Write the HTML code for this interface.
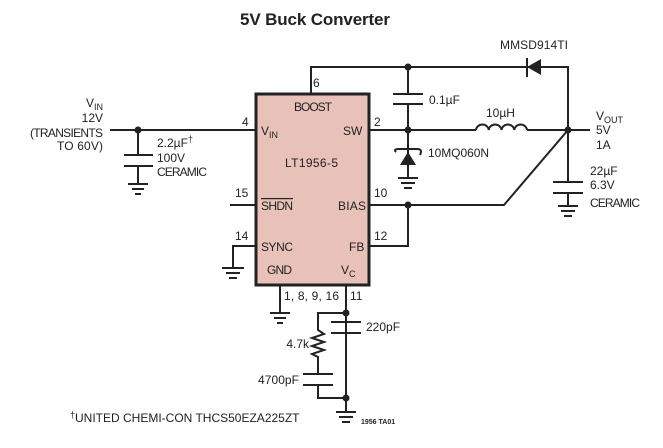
<!DOCTYPE html>
<html><head><meta charset="utf-8"><style>
html,body{margin:0;padding:0;background:#fff;width:663px;height:448px;overflow:hidden}
text{font-family:"Liberation Sans Narrow","Liberation Sans",sans-serif;font-size:12px;fill:#222}
</style></head><body>
<svg width="663" height="448" viewBox="0 0 663 448" xmlns="http://www.w3.org/2000/svg">
<g stroke="#222" stroke-width="2" fill="none">
<rect x="256" y="94" width="113" height="191" fill="#e8c1b9" stroke-width="3"/>
<path d="M110 130H256M138 130V155M124 155H153M124 166H153M138 166V184M128 184H148M132 189H144M135 194H141"/>
<path d="M311 94V67H568V130M408 67V94M393 94H423M393 104H423M408 104V130"/>
<path d="M527 58V77"/>
<path d="M370 130H476M527 130H590M476 130a6.4 6 0 0 1 12.75 0a6.4 6 0 0 1 12.75 0a6.4 6 0 0 1 12.75 0a6.4 6 0 0 1 12.75 0"/>
<path d="M408 130V178M398 178H418M401 183H415M404 188H412M396 152Q393 149 399 149H417Q423 149 420 155"/>
<path d="M568 130L504 205H370M408 205V246H370"/>
<path d="M568 130V182M553 182H583M553 193H583M568 193V206M558 206H578M561 211H575M564 216H572"/>
<path d="M230 205H256M256 246H233V268M222 268H244M226 273H240M229 278H237"/>
<path d="M280 285V313M270 313H290M274 318H286M277 323H283"/>
<path d="M346 285V412M336 412H356M339 417H353M342 422H350M331 322H361M331 333H361M346 313H318V330l6 4-12 4 12 4-12 4 12 4-12 4 6 3V374M303 374H333M303 385H333M318 385V398H346"/>
</g>
<g fill="#222">
<circle cx="138" cy="130" r="3.5"/><circle cx="408" cy="67" r="3.5"/><circle cx="408" cy="130" r="3.5"/>
<circle cx="568" cy="130" r="3.5"/><circle cx="408" cy="205" r="3.5"/><circle cx="346" cy="313" r="3.5"/><circle cx="346" cy="398" r="3.5"/>
<polygon points="527,67 541,59 541,75"/>
<polygon points="408,152 400,165 416,165"/>
</g>
<text x="315" y="25" text-anchor="middle" textLength="150" style="font-size:17px;font-weight:bold">5V Buck Converter</text>
<text x="500" y="49" textLength="68">MMSD914TI</text>
<text x="313" y="87">6</text>
<text x="294" y="111" textLength="38">BOOST</text>
<text x="261" y="135">V<tspan style="font-size:9px" dy="3">IN</tspan></text>
<text x="343" y="135">SW</text>
<text x="285" y="167" textLength="53">LT1956-5</text>
<text x="261" y="210" text-decoration="overline" textLength="32">SHDN</text>
<text x="338" y="210" textLength="28">BIAS</text>
<text x="261" y="251" textLength="32">SYNC</text>
<text x="349" y="251">FB</text>
<text x="267" y="274" textLength="25">GND</text>
<text x="341" y="274">V<tspan style="font-size:9px" dy="3">C</tspan></text>
<text x="242" y="126">4</text><text x="235" y="197">15</text><text x="235" y="240">14</text>
<text x="374" y="126">2</text><text x="374" y="197">10</text><text x="374" y="240">12</text>
<text x="284" y="300" textLength="55">1, 8, 9, 16</text><text x="350" y="300">11</text>
<text x="103" y="107" text-anchor="end">V<tspan style="font-size:9px" dy="3">IN</tspan></text>
<text x="103" y="122" text-anchor="end">12V</text>
<text x="103" y="137" text-anchor="end" textLength="73">(TRANSIENTS</text>
<text x="103" y="150" text-anchor="end" textLength="46">TO 60V)</text>
<text x="157" y="147">2.2µF<tspan style="font-size:9px" dy="-5">†</tspan></text>
<text x="157" y="162">100V</text><text x="157" y="176" textLength="50">CERAMIC</text>
<text x="429" y="104">0.1µF</text>
<text x="486" y="117">10µH</text>
<text x="428" y="157" textLength="61">10MQ060N</text>
<text x="596" y="120">V<tspan style="font-size:9px" dy="3">OUT</tspan></text>
<text x="596" y="134">5V</text><text x="596" y="149">1A</text>
<text x="590" y="175">22µF</text><text x="590" y="189">6.3V</text><text x="590" y="207" textLength="50">CERAMIC</text>
<text x="366" y="331">220pF</text>
<text x="309" y="348" text-anchor="end">4.7k</text>
<text x="299" y="384" text-anchor="end" textLength="41">4700pF</text>
<text x="70" y="422"><tspan style="font-size:9px" dy="-4">†</tspan><tspan dy="4">UNITED CHEMI-CON THCS50EZA225ZT</tspan></text>
<text x="361" y="424" style="font-size:7px;font-weight:bold">1956 TA01</text>
</svg>
</body></html>
